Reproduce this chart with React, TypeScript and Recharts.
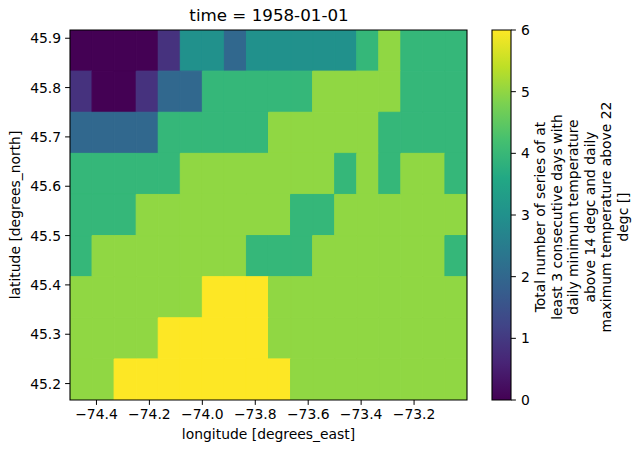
import React from "react";
import {
  ScatterChart,
  XAxis,
  YAxis,
  ReferenceArea,
  Label,
} from "recharts";

// grid cell centres (degrees)
const LON = [
  -74.4583, -74.375, -74.2917, -74.2083, -74.125, -74.0417, -73.9583, -73.875,
  -73.7917, -73.7083, -73.625, -73.5417, -73.4583, -73.375, -73.2917, -73.2083,
  -73.125, -73.0417,
];
const LAT = [45.875, 45.7917, 45.7083, 45.625, 45.5417, 45.4583, 45.375, 45.2917, 45.2083];

// number of heat series per cell, rows top (north) to bottom (south)
const COUNTS = [
  [0, 0, 0, 0, 1, 3, 3, 2, 3, 3, 3, 3, 3, 4, 5, 4, 4, 4],
  [1, 0, 0, 1, 2, 2, 4, 4, 4, 4, 4, 5, 5, 5, 5, 4, 4, 4],
  [2, 2, 2, 2, 4, 4, 4, 4, 4, 5, 5, 5, 5, 5, 4, 4, 4, 4],
  [4, 4, 4, 4, 4, 5, 5, 5, 5, 5, 5, 5, 4, 5, 4, 5, 5, 4],
  [4, 4, 4, 5, 5, 5, 5, 5, 5, 5, 4, 4, 5, 5, 5, 5, 5, 5],
  [4, 5, 5, 5, 5, 5, 5, 5, 4, 4, 4, 5, 5, 5, 5, 5, 5, 4],
  [5, 5, 5, 5, 5, 5, 6, 6, 6, 5, 5, 5, 5, 5, 5, 5, 5, 5],
  [5, 5, 5, 5, 6, 6, 6, 6, 6, 5, 5, 5, 5, 5, 5, 5, 5, 5],
  [5, 5, 6, 6, 6, 6, 6, 6, 6, 6, 5, 5, 5, 5, 5, 5, 5, 5],
];

const LON_TICKS = [-74.4, -74.2, -74.0, -73.8, -73.6, -73.4, -73.2];
const LAT_TICKS = [45.2, 45.3, 45.4, 45.5, 45.6, 45.7, 45.8, 45.9];
const CBAR_TICKS = [0, 1, 2, 3, 4, 5, 6];

const TITLE = "time = 1958-01-01";
const X_LABEL = "longitude [degrees_east]";
const Y_LABEL = "latitude [degrees_north]";
const CBAR_LABEL = [
  "Total number of series of at",
  "least 3 consecutive days with",
  "daily minimum temperature",
  "above 14 degc and daily",
  "maximum temperature above 22",
  "degc []",
];

// viridis sampled at value / 6
const LEVEL_COLORS = ["#440154", "#46327e", "#31688e", "#21918c", "#35b779", "#90d743", "#fde725"];
const VIRIDIS = [
  "#440154", "#482475", "#414487", "#355f8d", "#2a788e", "#21918c",
  "#22a884", "#44bf70", "#7ad151", "#bddf26", "#fde725",
];

const HALF = 1 / 24;
const FONT = "DejaVu Sans";
const tickStyle = { fill: "#000", fontSize: 13.9, fontFamily: FONT };
const minus = (v: number) => v.toFixed(1).replace("-", "\u2212");

export default function App() {
  return (
    <div style={{ position: "fixed", left: 0, top: 0, width: 639, height: 453, background: "#fff" }}>
      <svg width={639} height={30} style={{ position: "absolute", left: 0, top: 0 }}>
        <text x={269} y={21} textAnchor="middle" fontSize={16.7} fontFamily={FONT} fill="#000">
          {TITLE}
        </text>
      </svg>

      <div style={{ position: "absolute", left: 0, top: 0 }}>
        <ScatterChart width={639} height={453} margin={{ top: 30, right: 172, bottom: 0, left: 0 }}>
          <XAxis
            type="number"
            dataKey="x"
            domain={[-74.5, -73.0]}
            allowDataOverflow
            ticks={LON_TICKS}
            tickFormatter={minus}
            height={53}
            tick={tickStyle}
            tickSize={4.9}
            tickMargin={4}
            tickLine={{ stroke: "#000" }}
            axisLine={false}
          >
            <Label
              content={({ viewBox }: any) => (
                <text
                  x={viewBox.x + viewBox.width / 2}
                  y={439}
                  textAnchor="middle"
                  fontSize={13.9}
                  fontFamily={FONT}
                  fill="#000"
                >
                  {X_LABEL}
                </text>
              )}
            />
          </XAxis>
          <YAxis
            type="number"
            dataKey="y"
            domain={[45.1667, 45.9167]}
            allowDataOverflow
            ticks={LAT_TICKS}
            tickFormatter={(v: number) => v.toFixed(1)}
            width={70}
            tick={tickStyle}
            tickSize={4.9}
            tickMargin={4}
            tickLine={{ stroke: "#000" }}
            axisLine={false}
          >
            <Label
              content={({ viewBox }: any) => {
                const cy = viewBox.y + viewBox.height / 2;
                return (
                  <text
                    x={15}
                    y={cy}
                    transform={`rotate(-90, 15, ${cy})`}
                    textAnchor="middle"
                    dominantBaseline="central"
                    fontSize={13.9}
                    fontFamily={FONT}
                    fill="#000"
                  >
                    {Y_LABEL}
                  </text>
                );
              }}
            />
          </YAxis>
          {COUNTS.map((row, r) =>
            row.map((v, c) => (
              <ReferenceArea
                key={`cell-${r}-${c}`}
                x1={LON[c] - HALF}
                x2={LON[c] + HALF}
                y1={LAT[r] - HALF}
                y2={LAT[r] + HALF}
                fill={LEVEL_COLORS[v]}
                fillOpacity={1}
                stroke={LEVEL_COLORS[v]}
                strokeWidth={1}
                ifOverflow="hidden"
              />
            ))
          )}
          <ReferenceArea
            x1={-74.5}
            x2={-73.0}
            y1={45.1667}
            y2={45.9167}
            fill="none"
            stroke="#000"
            strokeWidth={1.1}
            ifOverflow="visible"
          />
        </ScatterChart>
      </div>

      <div style={{ position: "absolute", left: 480, top: 0 }}>
        <ScatterChart width={159} height={453} margin={{ top: 30, right: 0, bottom: 53, left: 12 }}>
          <defs>
            <linearGradient id="viridis" x1="0" y1="1" x2="0" y2="0">
              {VIRIDIS.map((c, i) => (
                <stop key={c} offset={i / (VIRIDIS.length - 1)} stopColor={c} />
              ))}
            </linearGradient>
          </defs>
          <XAxis type="number" dataKey="x" domain={[0, 1]} allowDataOverflow hide />
          <YAxis
            type="number"
            dataKey="y"
            orientation="right"
            domain={[0, 6]}
            allowDataOverflow
            ticks={CBAR_TICKS}
            width={128}
            tick={tickStyle}
            tickSize={4.9}
            tickMargin={5}
            tickLine={{ stroke: "#000" }}
            axisLine={false}
          >
            <Label
              content={({ viewBox }: any) => {
                const cy = viewBox.y + viewBox.height / 2 + 2;
                return (
                  <g>
                    {CBAR_LABEL.map((line, i) => {
                      const lx = viewBox.x + 29 + i * 16.6;
                      return (
                        <text
                          key={line}
                          x={lx}
                          y={cy}
                          transform={`rotate(-90, ${lx}, ${cy})`}
                          textAnchor="middle"
                          dominantBaseline="central"
                          fontSize={13.9}
                          fontFamily={FONT}
                          fill="#000"
                        >
                          {line}
                        </text>
                      );
                    })}
                  </g>
                );
              }}
            />
          </YAxis>
          <ReferenceArea
            x1={0}
            x2={1}
            y1={0}
            y2={6}
            fill="url(#viridis)"
            fillOpacity={1}
            stroke="#000"
            strokeWidth={1.1}
            ifOverflow="visible"
          />
        </ScatterChart>
      </div>
    </div>
  );
}
